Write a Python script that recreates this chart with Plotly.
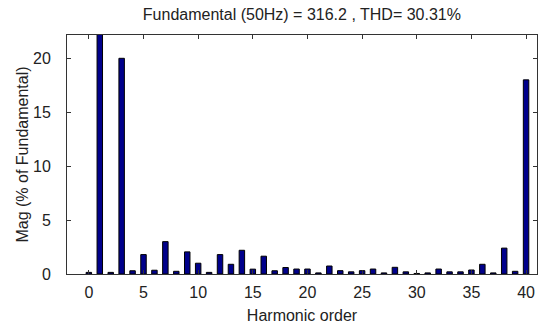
import plotly.graph_objects as go

harmonics = list(range(0, 41))
magnitudes = [0.15, 100, 0.15, 20, 0.3, 1.8, 0.35, 3.0, 0.25, 2.05,
              1.0, 0.15, 1.8, 0.9, 2.2, 0.45, 1.65, 0.3, 0.6, 0.46,
              0.46, 0.1, 0.74, 0.31, 0.2, 0.31, 0.46, 0.1, 0.62, 0.2,
              0.05, 0.1, 0.46, 0.2, 0.2, 0.37, 0.9, 0.1, 2.4, 0.25,
              18.0]
x_ticks = [0, 5, 10, 15, 20, 25, 30, 35, 40]
y_ticks = [0, 5, 10, 15, 20]
title_text = "Fundamental (50Hz) = 316.2 , THD= 30.31%"

FONT = "Liberation Sans, Arial"
TXT = "#222222"
FS = 16

fig = go.Figure(go.Bar(
    x=harmonics, y=magnitudes, width=0.5,
    marker=dict(color="#00008B", line=dict(color="black", width=1)),
    cliponaxis=True,
))

axis_common = dict(
    showline=True, linecolor="#333333", linewidth=1, mirror="ticks",
    ticks="inside", ticklen=4, tickcolor="#333333", showgrid=False,
    zeroline=False, tickfont=dict(family=FONT, size=FS, color=TXT),
)

fig.update_layout(
    width=542, height=329,
    margin=dict(l=67, r=5, t=35, b=55),
    paper_bgcolor="white", plot_bgcolor="white",
    title=dict(text=title_text, x=0.557, xanchor="center", y=0.955, yanchor="middle",
               font=dict(family=FONT, size=FS, color=TXT)),
    xaxis=dict(range=[-2, 41], tickvals=x_ticks, ticklabelstandoff=4,
               title=dict(text="Harmonic order", standoff=9,
                          font=dict(family=FONT, size=FS, color=TXT)),
               **axis_common),
    yaxis=dict(range=[0, 22.16], tickvals=y_ticks, ticklabelstandoff=12,
               title=dict(text="Mag (% of Fundamental)", standoff=0,
                          font=dict(family=FONT, size=FS, color=TXT)),
               **axis_common),
    showlegend=False,
)

fig.write_html("out.html")
